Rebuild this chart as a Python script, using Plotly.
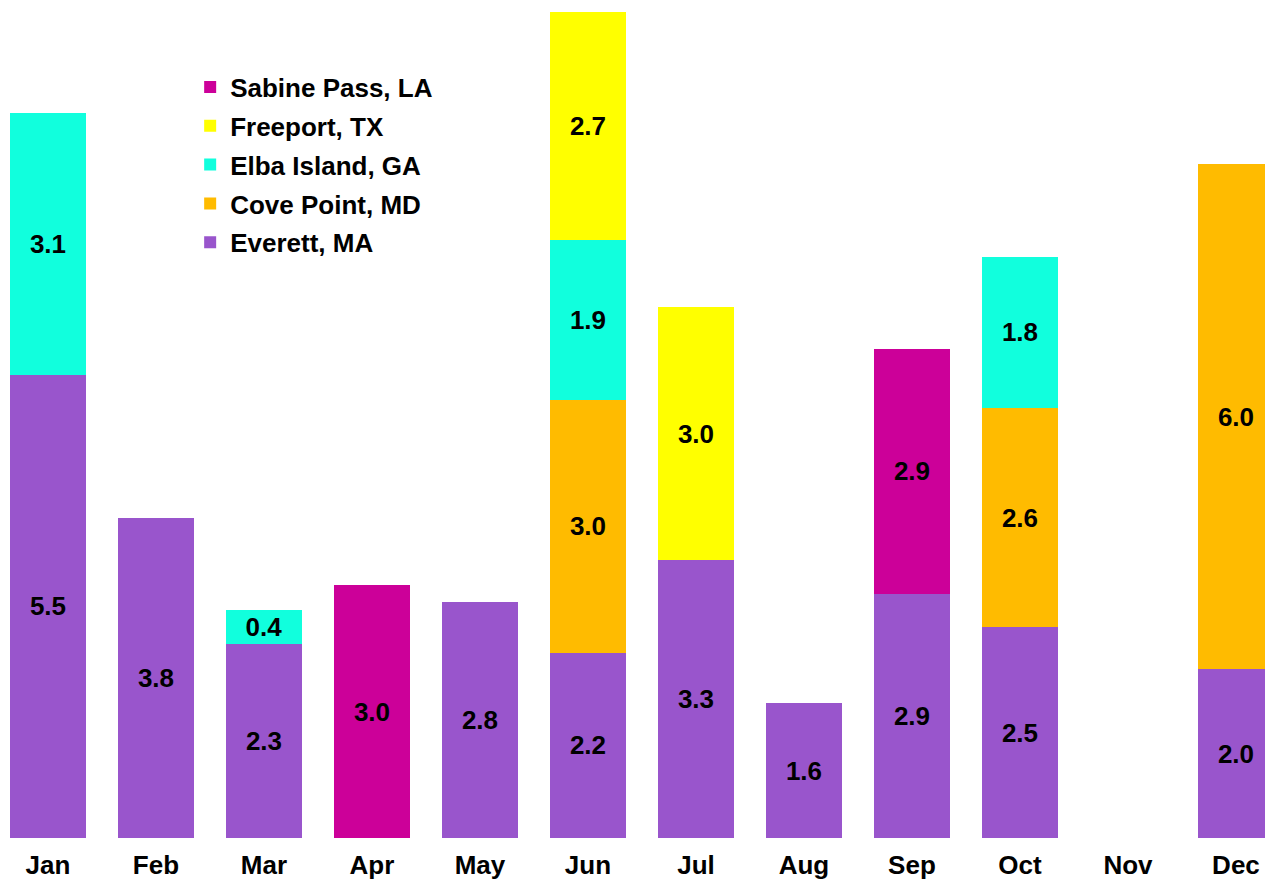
import plotly.graph_objects as go

months = ["Jan", "Feb", "Mar", "Apr", "May", "Jun", "Jul", "Aug", "Sep", "Oct", "Nov", "Dec"]

everett    = [5.5, 3.8, 2.3, None, 2.8, 2.2, 3.3, 1.6, 2.9, 2.5, None, 2.0]
cove_point = [None, None, None, None, None, 3.0, None, None, None, 2.6, None, 6.0]
elba       = [3.1, None, 0.4, None, None, 1.9, None, None, None, 1.8, None, None]
freeport   = [None, None, None, None, None, 2.7, 3.0, None, None, None, None, None]
sabine     = [None, None, None, 3.0, None, None, None, None, 2.9, None, None, None]

series = [
    ("Everett, MA", everett, "#9955CC", 5),
    ("Cove Point, MD", cove_point, "#FFBB00", 4),
    ("Elba Island, GA", elba, "#11FFDD", 3),
    ("Freeport, TX", freeport, "#FFFF00", 2),
    ("Sabine Pass, LA", sabine, "#CC0099", 1),
]

FONT = "Arial, Liberation Sans, sans-serif"
FS = 26

fig = go.Figure()
for name, vals, color, rank in series:
    fig.add_trace(go.Bar(
        x=months, y=vals, name=name, legendgroup=name, legendrank=rank,
        marker=dict(color=color, line=dict(width=0)),
        text=[f"{v:.1f}" if v is not None else "" for v in vals],
        textposition="inside", insidetextanchor="middle",
        textfont=dict(family=FONT, size=FS, color="black", weight="bold"),
        textangle=0,
    ))

fig.update_layout(
    barmode="stack",
    bargap=0.30,
    width=1265, height=875,
    margin=dict(l=0, r=0, t=0, b=45),
    paper_bgcolor="white", plot_bgcolor="white",
    font=dict(family=FONT, size=FS, color="black", weight="bold"),
    uniformtext=dict(minsize=FS, mode="show"),
    showlegend=True,
    legend=dict(
        x=0.144, y=0.933, xanchor="left", yanchor="top",
        traceorder="grouped", tracegroupgap=2,
        font=dict(family=FONT, size=FS, color="black", weight="bold"),
        bgcolor="rgba(0,0,0,0)",
    ),
    xaxis=dict(
        range=[-0.370, 11.343], showgrid=False, zeroline=False, showline=False,
        ticks="outside", ticklen=4, tickcolor="white", automargin=False,
        tickfont=dict(family=FONT, size=FS, color="black", weight="bold"),
    ),
    yaxis=dict(range=[0, 9.85], visible=False, showgrid=False, zeroline=False),
)

fig.write_html("out.html")
